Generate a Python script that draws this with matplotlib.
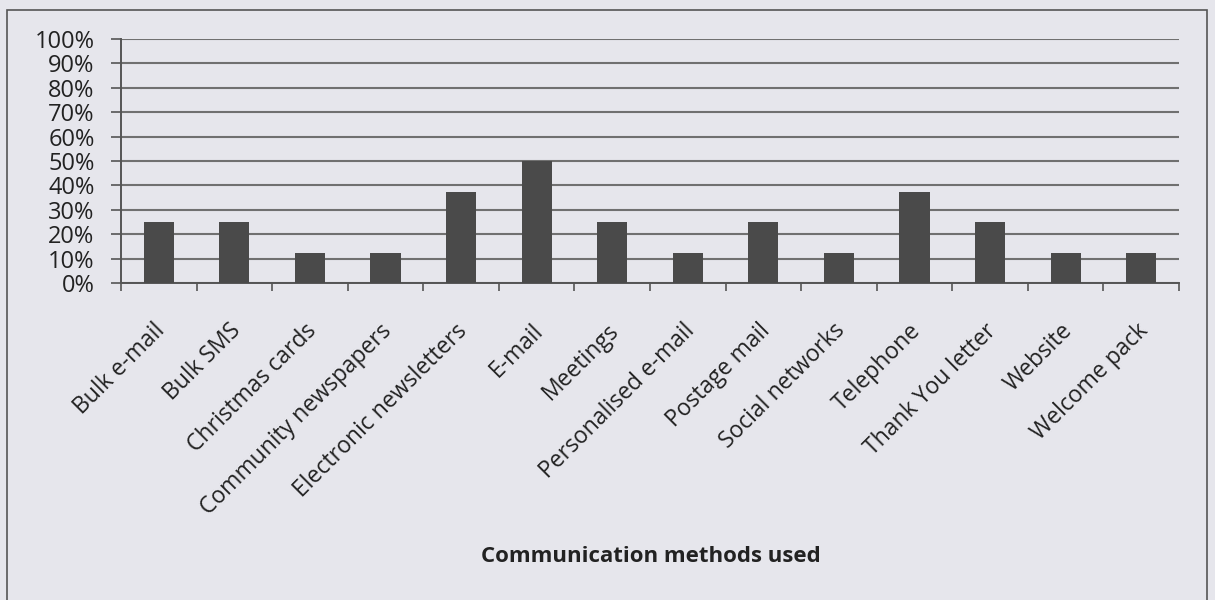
import matplotlib
matplotlib.use('Agg')
from matplotlib import pyplot as plt
from matplotlib.patches import Rectangle
from matplotlib.ticker import PercentFormatter
from matplotlib.transforms import ScaledTranslation
import numpy as np

methods = ['Bulk e-mail', 'Bulk SMS', 'Christmas cards', 'Community newspapers',
           'Electronic newsletters', 'E-mail', 'Meetings', 'Personalised e-mail',
           'Postage mail', 'Social networks', 'Telephone', 'Thank You letter',
           'Website', 'Welcome pack']
share = [25, 25, 12.5, 12.5, 37.5, 50, 25, 12.5, 25, 12.5, 37.5, 25, 12.5, 12.5]

bg = '#e6e6ec'
plt.rcParams['font.family'] = ['Open Sans', 'DejaVu Sans']

fig = plt.figure(figsize=(12.15, 6.0), dpi=100)
fig.patch.set_facecolor(bg)
# outer chart border
fig.add_artist(Rectangle((7/1215, -0.01), 1200/1215, 1 - 10/600 + 0.01,
                         transform=fig.transFigure, fill=False,
                         edgecolor='#555555', lw=1.2))

ax = fig.add_axes([121/1215, 1 - 283/600, (1179 - 121)/1215, (283 - 39)/600])
ax.set_facecolor(bg)
x = np.arange(len(methods))
ax.bar(x, share, width=0.4, color='#4a4a4a', zorder=3)

ax.set_xlim(-0.5, len(methods) - 0.5)
ax.set_ylim(0, 100)
ax.set_yticks(np.arange(0, 101, 10))
ax.yaxis.set_major_formatter(PercentFormatter(decimals=0))
ax.yaxis.grid(True, color='#707070', lw=1.5, zorder=0)

ax.set_xticks(x)
ax.set_xticklabels(methods, rotation=45, ha='right', va='center',
                   rotation_mode='anchor', fontsize=16.5, color='#222222')
ax.tick_params(axis='x', length=0, pad=32)
shift = ScaledTranslation(3/100, 0, fig.dpi_scale_trans)
for lab in ax.get_xticklabels():
    lab.set_transform(lab.get_transform() + shift)
ax.set_xticks(np.arange(-0.5, len(methods)), minor=True)
ax.tick_params(axis='x', which='minor', length=6, direction='out', color='#555555', width=1.2)
ax.tick_params(axis='y', length=7, direction='out', color='#555555', width=1.2,
               labelsize=17, pad=12, labelcolor='#222222')

for s in ['top', 'right']:
    ax.spines[s].set_visible(False)
for s in ['left', 'bottom']:
    ax.spines[s].set_color('#555555')
    ax.spines[s].set_linewidth(1.4)

fig.text(651/1215, 1 - 557/600, 'Communication methods used', ha='center', va='center',
         fontsize=16, fontweight='bold', color='#222222')

fig.savefig('out.png', dpi=100, facecolor=bg)
